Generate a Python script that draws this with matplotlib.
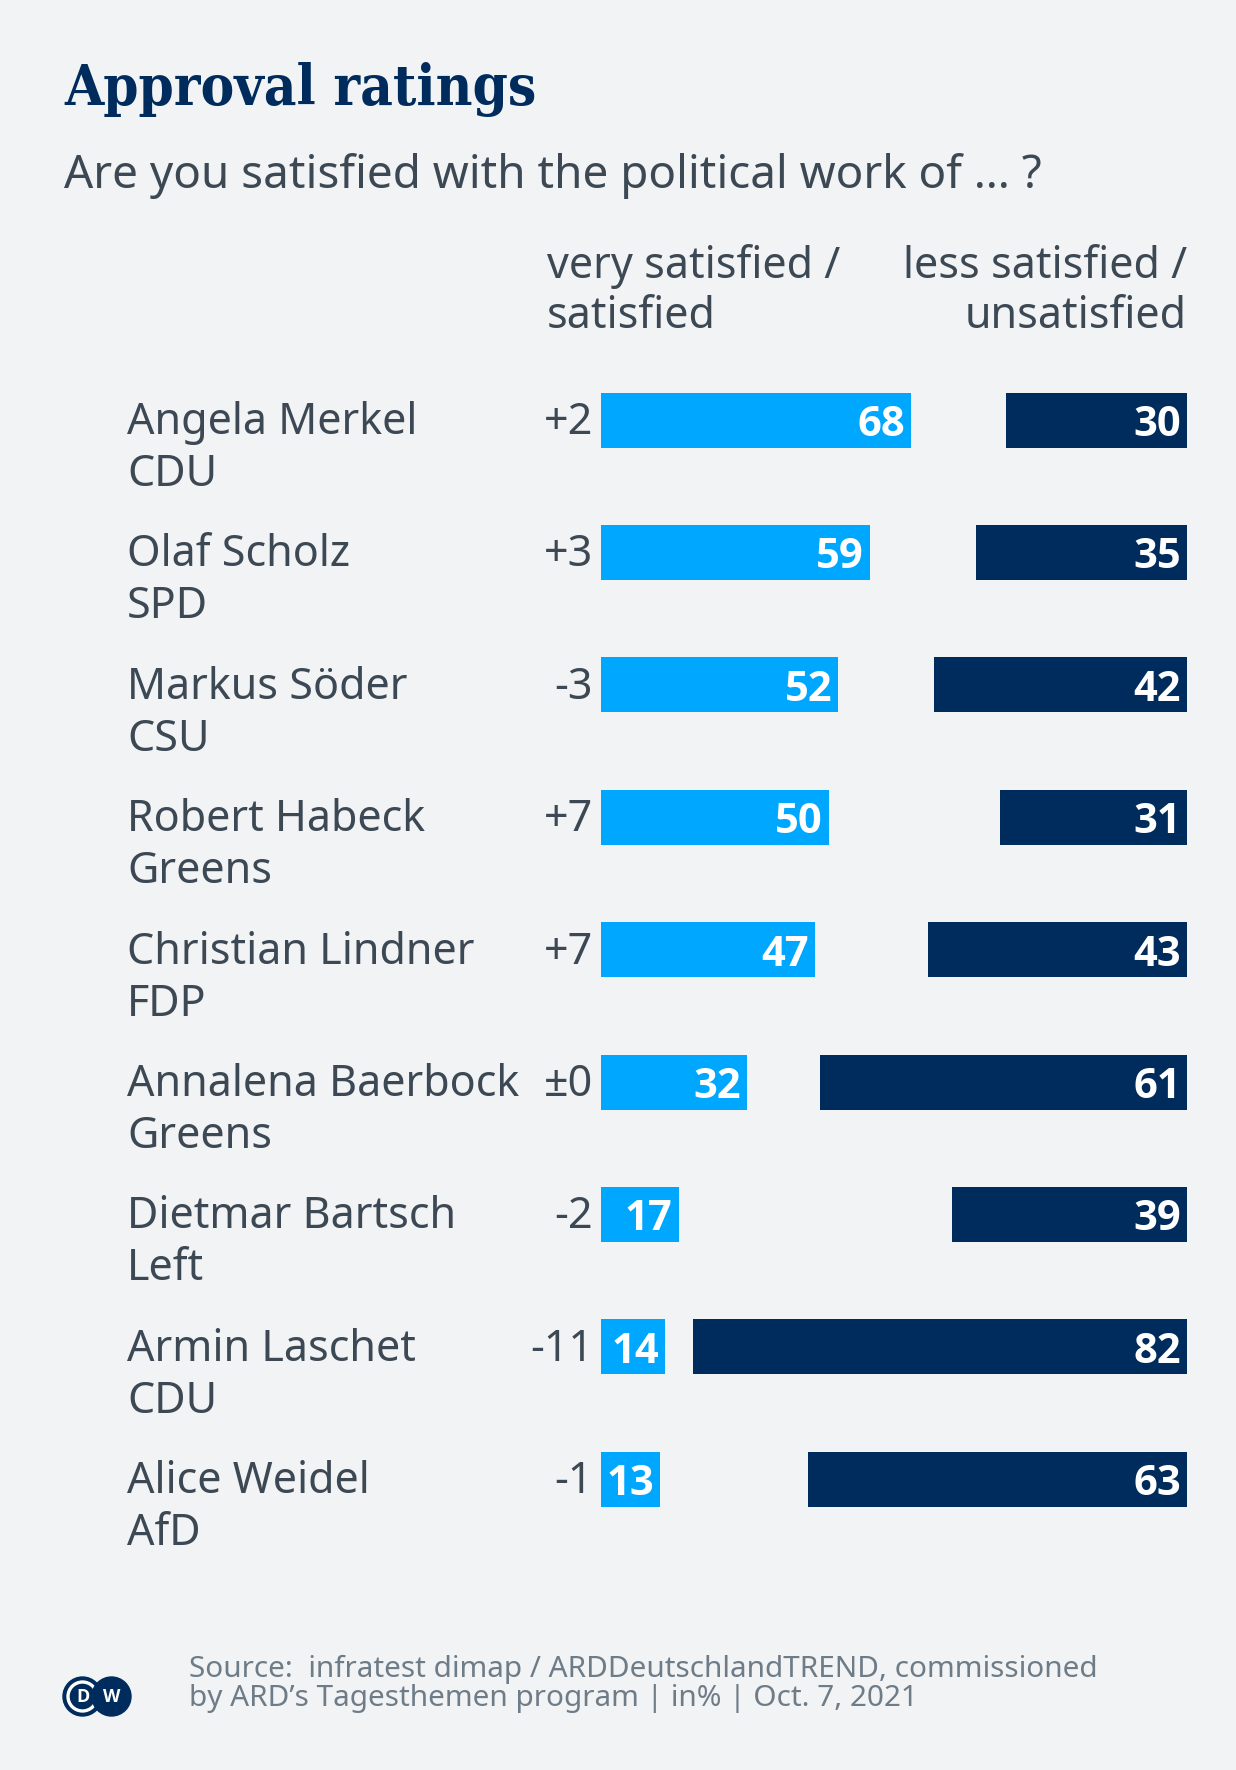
import matplotlib.pyplot as plt
from matplotlib.patches import Circle

# data
names = ["Angela Merkel", "Olaf Scholz", "Markus Söder", "Robert Habeck",
         "Christian Lindner", "Annalena Baerbock", "Dietmar Bartsch",
         "Armin Laschet", "Alice Weidel"]
parties = ["CDU", "SPD", "CSU", "Greens", "FDP", "Greens", "Left", "CDU", "AfD"]
satisfied = [68, 59, 52, 50, 47, 32, 17, 14, 13]
unsatisfied = [30, 35, 42, 31, 43, 61, 39, 82, 63]
change = ["+2", "+3", "-3", "+7", "+7", "±0", "-2", "-11", "-1"]

W, H = 1236, 1770
BG = "#f2f3f5"
BLUE = "#00a7ff"
NAVY = "#002c5d"
TEXT = "#3c4853"
FOOT = "#6e7c88"
SANS = "Noto Sans"
BOLD = "Open Sans"


def fx(x):
    return x / W


def fy(y):
    return 1 - y / H


fig = plt.figure(figsize=(W / 100, H / 100), dpi=100, facecolor=BG)

# title + subtitle
fig.text(fx(64), fy(105), "Approval ratings", family="DejaVu Serif",
         fontstretch="condensed", fontweight="bold", fontsize=40.5,
         color=NAVY, va="baseline")
fig.text(fx(64), fy(188), "Are you satisfied with the political work of … ?",
         family=SANS, fontsize=33, color=TEXT, va="baseline")

# column headers (baseline = last line)
fig.text(fx(547), fy(328), "very satisfied /\nsatisfied", family=SANS,
         fontsize=31, color=TEXT, va="baseline", ha="left",
         linespacing=1.18)
fig.text(fx(1187), fy(328), "less satisfied /\nunsatisfied", family=SANS,
         fontsize=31, color=TEXT, va="baseline", ha="right",
         multialignment="right", linespacing=1.18)

# layout of rows
row_h = 132.4
top = 420 - row_h / 2
n = len(names)
ax_bottom = fy(top + n * row_h)
ax_height = n * row_h / H
bar_h = 55 / row_h

blue_scale = 4.56   # px per percentage point
navy_scale = 6.02

ax1 = fig.add_axes([fx(601), ax_bottom, 100 * blue_scale / W, ax_height])
ax2 = fig.add_axes([fx(1187 - 100 * navy_scale), ax_bottom,
                    100 * navy_scale / W, ax_height])

rows = list(range(n))
ax1.barh(rows, satisfied, height=bar_h, color=BLUE, left=0)
ax2.barh(rows, unsatisfied, height=bar_h, color=NAVY, left=0)

ax1.set_xlim(0, 100)
ax2.set_xlim(100, 0)
for ax in (ax1, ax2):
    ax.set_ylim(n - 0.5, -0.5)
    ax.axis("off")
    ax.patch.set_alpha(0)

pt = 72 / 100  # px -> points

for i in rows:
    ax1.annotate(str(satisfied[i]), xy=(satisfied[i], i),
                 xytext=(-6 * pt, -16 * pt), textcoords="offset points",
                 ha="right", va="baseline", color="white",
                 family=BOLD, fontweight="bold", fontsize=30)
    ax2.annotate(str(unsatisfied[i]), xy=(0, i),
                 xytext=(-6 * pt, -16 * pt), textcoords="offset points",
                 ha="right", va="baseline", color="white",
                 family=BOLD, fontweight="bold", fontsize=30)
    ax1.annotate(change[i], xy=(0, i),
                 xytext=(-8 * pt, -14 * pt), textcoords="offset points",
                 ha="right", va="baseline", color=TEXT,
                 family=SANS, fontsize=31)
    ax1.annotate(names[i], xy=(fx(127), i), xycoords=("figure fraction", "data"),
                 xytext=(0, -14 * pt), textcoords="offset points",
                 ha="left", va="baseline", color=TEXT,
                 family=SANS, fontsize=31, annotation_clip=False)
    ax1.annotate(parties[i], xy=(fx(127), i), xycoords=("figure fraction", "data"),
                 xytext=(0, -66 * pt), textcoords="offset points",
                 ha="left", va="baseline", color=TEXT,
                 family=SANS, fontsize=31, annotation_clip=False)

# footer (baseline = last line)
fig.text(fx(189), fy(1706),
         "Source:  infratest dimap / ARDDeutschlandTREND, commissioned\n"
         "by ARD’s Tagesthemen program | in% | Oct. 7, 2021",
         family=SANS, fontsize=21.4, color=FOOT, va="baseline",
         linespacing=1.0)

# DW logo
lax = fig.add_axes([0, 0, 1, 1], zorder=-1)
lax.set_xlim(0, W)
lax.set_ylim(H, 0)
lax.axis("off")
cy = 1696.5
lax.add_patch(Circle((82.5, cy), 19.5, color=NAVY))
lax.add_patch(Circle((82.5, cy), 14.5, fill=False, ec="white", lw=2.4))
lax.add_patch(Circle((111.5, cy), 19.5, color=NAVY))
lax.text(82.5, cy + 0.5, "D", ha="center", va="center", color="white",
         family=BOLD, fontweight="bold", fontsize=13)
lax.text(111.5, cy + 0.5, "W", ha="center", va="center", color="white",
         family=BOLD, fontweight="bold", fontsize=13)

fig.savefig("out.png", dpi=100, facecolor=BG)
